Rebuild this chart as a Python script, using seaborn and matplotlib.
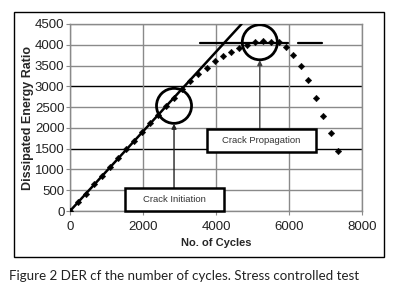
import matplotlib
matplotlib.use("Agg")
import matplotlib.pyplot as plt
import seaborn as sns
import pandas as pd
from matplotlib.patches import Ellipse, Rectangle

cycles = [0, 220, 440, 660, 880, 1100, 1320, 1540, 1760, 1980, 2200, 2420, 2640,
          2860, 3080, 3300, 3520, 3740, 3960, 4180, 4400, 4620, 4840, 5060, 5280,
          5500, 5720, 5920, 6120, 6330, 6530, 6740, 6940, 7150, 7340]
der = [0, 210, 420, 640, 850, 1060, 1270, 1480, 1690, 1900, 2110, 2320, 2530,
       2730, 2930, 3120, 3290, 3450, 3600, 3720, 3830, 3920, 4000, 4060, 4080,
       4070, 4060, 3940, 3750, 3490, 3150, 2720, 2290, 1880, 1440]
trend_x = [0, 4700]
trend_y = [0, 4500]
plateau_level = 4050
plateau_x1 = [3560, 5970]
plateau_x2 = [6250, 6900]
xticks = [0, 2000, 4000, 6000, 8000]
yticks = [0, 500, 1000, 1500, 2000, 2500, 3000, 3500, 4000, 4500]

sns.set_style("white")
plt.rcParams['font.family'] = ['Liberation Sans', 'DejaVu Sans']

fig = plt.figure(figsize=(3.98, 2.97), dpi=100)
ax = fig.add_axes([70/398, 86/297, 292/398, 187/297])

df = pd.DataFrame({"x": cycles, "y": der})

ax.set_xlim(0, 8000)
ax.set_ylim(0, 4500)
ax.set_xticks(xticks)
ax.set_yticks(yticks)
for yv in yticks:
    c = "black" if yv in (1500, 3000) else "#8a8a8a"
    ax.axhline(yv, color=c, lw=1.0, zorder=0)
for xv in xticks:
    ax.axvline(xv, color="#8a8a8a", lw=1.0, zorder=0)

sns.lineplot(x=trend_x, y=trend_y, ax=ax, color="black", lw=1.8, zorder=3)
sns.scatterplot(data=df, x="x", y="y", ax=ax, marker="D", s=11, color="black",
                edgecolor="black", linewidth=0.3, zorder=4)

ax.plot(plateau_x1, [plateau_level]*2, color="black", lw=1.6, zorder=3)
ax.plot(plateau_x2, [plateau_level]*2, color="black", lw=1.6, zorder=3)

# circles
ax.add_patch(Ellipse((2850, 2530), 960, 842, fill=False, lw=2.0, ec="black", zorder=5))
ax.add_patch(Ellipse((5200, 4060), 960, 842, fill=False, lw=2.0, ec="black", zorder=5))

# arrows
ax.annotate("", xy=(2850, 2100), xytext=(2850, 553),
            arrowprops=dict(arrowstyle="-|>", color="#222222", lw=1.0,
                            mutation_scale=7, shrinkA=0, shrinkB=0), zorder=5)
ax.annotate("", xy=(5200, 3630), xytext=(5200, 1973),
            arrowprops=dict(arrowstyle="-|>", color="#444444", lw=1.0,
                            mutation_scale=7, shrinkA=0, shrinkB=0), zorder=5)

# boxes
ax.add_patch(Rectangle((1507, 0), 2712, 553, fc="white", ec="black", lw=1.8, zorder=6, clip_on=False))
ax.text(2863, 276, "Crack Initiation", ha="center", va="center", fontsize=6.8, color="#333333", zorder=7)
ax.add_patch(Rectangle((3753, 1420), 2987, 553, fc="white", ec="black", lw=1.8, zorder=6))
ax.text(5246, 1696, "Crack Propagation", ha="center", va="center", fontsize=6.8, color="#333333", zorder=7)

for s in ["left", "bottom", "right", "top"]:
    ax.spines[s].set_color("#8a8a8a")
    ax.spines[s].set_linewidth(1.0)

ax.tick_params(axis="both", labelsize=9.5, colors="#222222", length=3, width=0.8,
               direction="out", left=True, bottom=True, pad=1)
ax.tick_params(axis="x", pad=4)
ax.tick_params(axis="both", color="#8a8a8a")
ax.set_xlabel("No. of Cycles", fontsize=8, fontweight="bold", labelpad=4)
ax.set_ylabel("Dissipated Energy Ratio", fontsize=9, fontweight="bold")
ax.yaxis.set_label_coords(-0.125, 0.5)

# outer frame
fig.add_artist(Rectangle((14/398, 40/297), 370/398, 245/297, transform=fig.transFigure,
                         fill=False, ec="black", lw=1.0))

fig.text(9/398, 1 - 276/297, "Figure 2 DER cf the number of cycles. Stress controlled test",
         fontsize=9.6, color="#222222", va="center", ha="left", family=["Lato", "DejaVu Sans"])

fig.savefig("out.png", dpi=100)
